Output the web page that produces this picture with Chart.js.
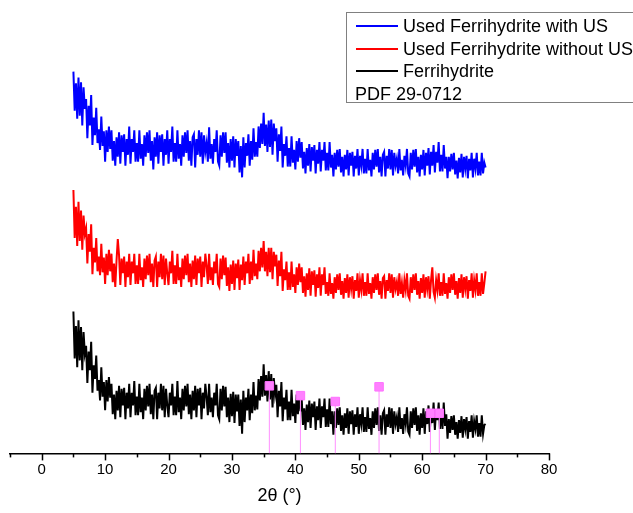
<!DOCTYPE html>
<html>
<head>
<meta charset="utf-8">
<script src="https://cdn.jsdelivr.net/npm/chart.js@4.4.1/dist/chart.umd.min.js"></script>
<style>
  html, body { margin: 0; padding: 0; background: #fff; }
  #wrap { position: relative; width: 633px; height: 513px; overflow: hidden; }
  #legend { position: absolute; left: 346px; top: 12px; width: 300px; height: 89px;
    border: 1px solid #808080; background: #fff; font-family: "Liberation Sans", Arial, sans-serif;
    font-size: 18px; color: #000; }
  .row { position: absolute; left: 0; height: 22px; line-height: 22px; white-space: nowrap; }
  .sw { position: absolute; left: 9px; top: 10px; width: 42px; height: 2px; }
  .lbl { position: absolute; left: 56px; top: 0; }
</style>
</head>
<body>
<div id="wrap">
  <canvas id="c" width="633" height="513"></canvas>
  <div id="legend">
    <div class="row" style="top:2px"><div class="sw" style="background:#0000ff"></div><div class="lbl">Used Ferrihydrite with US</div></div>
    <div class="row" style="top:25px"><div class="sw" style="background:#ff0000"></div><div class="lbl">Used Ferrihydrite without US</div></div>
    <div class="row" style="top:47px"><div class="sw" style="background:#000000"></div><div class="lbl">Ferrihydrite</div></div>
    <div class="row" style="top:70px"><div class="lbl" style="left:8px">PDF 29-0712</div></div>
  </div>
</div>
<script>
// 2θ sampling grid (degrees): 5° to 70°
const angleStart = 5;
const angleStep = 0.2;

// Intensities (arbitrary units, stacked offsets), one value per grid step
const withUS = [
390,350,378,342,384, 345,379,335,374,352, 362,322,355,335,366, 315,343,325,353,317, 331,310,344,314,329,
298,330,308,334,311, 330,299,319,294,323, 303,328,296,325,308, 326,294,321,305,334, 296,321,308,330,298,
317,298,330,301,316, 294,325,303,328,307, 330,299,319,290,323, 303,328,296,325,308, 326,294,321,305,330,
296,321,308,334,298, 317,298,330,301,316, 294,325,303,328,307, 330,299,319,294,323, 326,292,321,305,330,
303,328,296,325,308, 317,298,333,301,316, 296,321,308,330,298, 294,325,303,328,307, 328,297,317,292,321,
299,324,292,321,304, 319,287,314,282,323, 292,317,304,326,294, 319,300,332,303,318, 303,334,312,337,316,
348,314,336,308,340, 313,341,305,337,319, 332,298,326,309,334, 292,316,304,324,293, 312,293,324,297,310,
290,319,298,322,302, 318,291,308,286,312, 294,316,288,313,299, 315,286,310,296,318, 288,310,299,318,289,
307,289,318,292,305, 283,307,290,310,293, 311,287,303,283,305, 290,310,284,307,294, 308,283,304,291,311,
284,304,294,311,286, 301,286,311,289,300, 283,307,290,310,293, 311,287,303,283,305, 308,283,304,291,311,
290,310,284,307,294, 301,286,311,289,300, 284,304,294,311,286, 283,307,290,310,293, 311,287,303,283,305,
290,310,284,307,294, 312,285,308,294,315, 287,308,297,318,288, 305,288,315,291,303, 281,303,288,306,290,
307,285,299,281,302, 287,306,282,303,291, 304,281,301,289,307, 282,301,291,307,284, 298,284,307,286,297,
292];

const withoutUS = [
269,220,252,212,257, 217,248,208,243,224, 230,194,224,206,234, 183,210,195,220,186, 201,182,214,185,200,
173,204,182,208,186, 204,175,194,170,197, 219,202,172,199,184, 201,170,196,180,204, 172,196,184,204,173,
192,173,204,177,190, 170,199,178,202,182, 204,175,194,170,197, 201,170,196,180,204, 178,202,172,199,184,
172,196,184,207,173, 192,173,204,177,190, 170,199,178,202,182, 204,175,194,170,197, 178,202,172,199,184,
201,170,196,180,204, 192,173,204,177,190, 172,196,184,204,173, 170,199,178,202,182, 200,171,190,166,193,
173,197,167,194,179, 198,167,193,177,201, 172,196,184,204,173, 196,177,208,181,194, 178,207,186,210,190,
217,186,206,181,210, 185,210,178,206,191, 203,171,197,181,206, 166,188,177,196,167, 185,167,196,170,183,
164,190,172,194,175, 190,164,181,160,184, 167,189,161,186,172, 187,160,183,169,190, 161,183,172,190,163,
175,161,184,163,174, 158,180,164,183,167, 184,162,176,158,179, 164,183,159,180,168, 181,158,177,166,184,
159,177,167,184,161, 175,161,184,163,174, 158,180,164,183,167, 184,162,176,158,179, 181,158,177,166,184,
164,183,159,180,168, 175,161,184,163,174, 159,177,167,184,161, 158,180,164,183,167, 184,162,176,158,179,
164,183,159,180,168, 181,158,177,190,165, 159,177,167,184,161, 175,161,184,163,174, 158,180,164,183,167,
184,162,176,158,179, 164,183,159,180,168, 181,158,177,166,184, 159,177,167,184,161, 175,161,184,163,174,
186];

const ferrihydrite = [
145,97,130,88,136, 95,129,85,124,102, 110,72,104,85,114, 62,90,76,100,64, 75,54,88,58,73,
44,75,53,78,57, 71,40,60,35,64, 44,69,37,66,49, 67,35,62,46,71, 37,62,49,74,39,
58,39,71,42,57, 35,66,44,69,48, 71,40,60,35,64, 67,35,62,46,71, 44,69,37,66,49,
37,62,49,71,39, 58,39,74,42,57, 35,66,44,69,48, 71,40,60,35,64, 44,69,37,66,49,
67,35,62,46,71, 58,39,71,42,57, 37,62,49,71,39, 35,66,44,69,48, 68,37,57,32,61,
38,63,31,60,43, 60,28,55,20,64, 32,57,44,66,34, 60,41,73,44,59, 45,76,54,79,58,
91,59,80,53,84, 55,81,47,77,60, 70,37,64,48,73, 33,57,45,65,34, 53,34,65,38,51,
31,60,40,63,43, 56,29,46,24,50, 32,54,26,51,37, 53,24,48,34,56, 26,48,37,56,27,
45,27,56,30,43, 19,43,26,46,29, 47,23,39,19,41, 26,46,20,43,30, 44,19,40,27,47,
20,40,30,47,22, 37,22,47,25,36, 19,43,26,46,29, 47,23,39,19,41, 44,19,40,27,47,
26,46,20,43,30, 37,22,47,25,36, 20,40,30,47,22, 19,43,26,46,29, 47,23,39,19,41,
26,46,20,43,30, 49,22,45,31,52, 24,45,34,52,25, 42,25,52,28,40, 15,35,21,38,24,
39,19,32,15,34, 21,38,16,35,25, 37,15,33,22,39, 16,33,25,39,17, 31,17,39,20,29,
30];

// PDF 29-0712 reference lines
const pdfAngles  = [35.9, 40.8, 46.3, 53.2, 61.3, 62.7];
const pdfHeights = [69, 59, 53, 68, 41, 41];

// x-axis ticks
const xMin = -5, xMax = 80, majorStep = 10, minorStep = 5;

const toPts = arr => arr.map((y, i) => ({ x: +(angleStart + i * angleStep).toFixed(2), y }));

const stickPts = [];
pdfAngles.forEach((a, i) => {
  stickPts.push({ x: a, y: 0 }, { x: a, y: pdfHeights[i] }, { x: a, y: null });
});
const squarePts = pdfAngles.map((a, i) => ({ x: a, y: pdfHeights[i] }));

const tickPlugin = {
  id: 'customTicks',
  afterDraw(chart) {
    const s = chart.scales.x;
    const ctx = chart.ctx;
    ctx.save();
    ctx.strokeStyle = '#000';
    ctx.lineWidth = 1.5;
    for (let v = xMin; v <= xMax; v += minorStep) {
      const px = Math.round(s.getPixelForValue(v)) + 0.5;
      const len = (v % majorStep === 0) ? 7 : 4;
      ctx.beginPath();
      ctx.moveTo(px, s.top);
      ctx.lineTo(px, s.top + len);
      ctx.stroke();
    }
    ctx.restore();
  }
};

new Chart(document.getElementById('c'), {
  type: 'line',
  data: {
    datasets: [
      { label: 'PDF squares', data: squarePts, showLine: false, pointStyle: 'rect',
        pointRadius: 6, pointBackgroundColor: '#ff80ff', pointBorderColor: '#ff70ff', pointBorderWidth: 1 },
      { label: 'PDF lines', data: stickPts, borderColor: '#ff90ff', borderWidth: 1,
        pointRadius: 0, spanGaps: false },
      { label: 'Ferrihydrite', data: toPts(ferrihydrite), borderColor: '#000000', borderWidth: 2, pointRadius: 0 },
      { label: 'Used Ferrihydrite without US', data: toPts(withoutUS), borderColor: '#ff0000', borderWidth: 2, pointRadius: 0 },
      { label: 'Used Ferrihydrite with US', data: toPts(withUS), borderColor: '#0000ff', borderWidth: 2, pointRadius: 0 }
    ]
  },
  options: {
    responsive: false,
    animation: false,
    events: [],
    layout: { padding: { left: 10, right: 84, top: 0, bottom: 6 } },
    plugins: { legend: { display: false }, tooltip: { enabled: false } },
    elements: { line: { tension: 0, borderJoinStyle: 'miter' } },
    scales: {
      x: {
        type: 'linear', min: xMin, max: xMax,
        grid: { display: true, drawOnChartArea: false, drawTicks: true, tickLength: 4, tickColor: 'rgba(0,0,0,0)' },
        border: { display: true, color: '#000', width: 1.5 },
        ticks: { stepSize: minorStep, autoSkip: false, maxRotation: 0, padding: 3,
          color: '#000', font: { family: 'Liberation Sans', size: 15 },
          callback: v => (v % majorStep === 0 ? String(v) : '') },
        title: { display: true, text: '2θ (°)', color: '#000',
          font: { family: 'Liberation Sans', size: 18 }, padding: { top: 4, bottom: 0 } }
      },
      y: { display: false, min: 0, max: 456 }
    }
  },
  plugins: [tickPlugin]
});
</script>
</body>
</html>
